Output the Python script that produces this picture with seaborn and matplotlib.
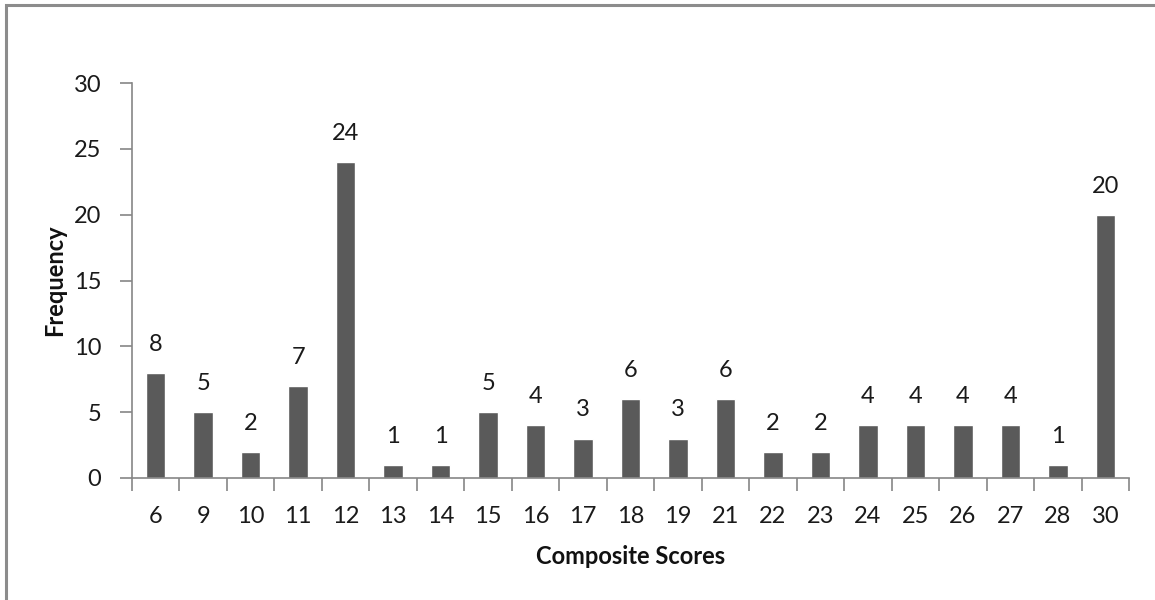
import matplotlib
matplotlib.use("Agg")
import matplotlib.pyplot as plt
from matplotlib.patches import Rectangle
import seaborn as sns
import pandas as pd

# Composite score values and how many respondents got each
scores = ["6", "9", "10", "11", "12", "13", "14", "15", "16", "17", "18",
          "19", "21", "22", "23", "24", "25", "26", "27", "28", "30"]
frequency = [8, 5, 2, 7, 24, 1, 1, 5, 4, 3, 6,
             3, 6, 2, 2, 4, 4, 4, 4, 1, 20]

df = pd.DataFrame({"score": scores, "freq": frequency})

sns.set_theme(style="white")
plt.rcParams["font.family"] = ["Lato", "DejaVu Sans"]

AXIS_GREY = "#868686"
BAR_GREY = "#5a5a5a"
FS = 17

fig = plt.figure(figsize=(11.55, 6.0), dpi=100)
ax = fig.add_axes([132 / 1155, 1 - 478 / 600, (1129 - 132) / 1155, (478 - 83) / 600])

sns.barplot(data=df, x="score", y="freq", order=scores, color=BAR_GREY,
            width=0.41, saturation=1, ax=ax)

# value labels above each bar
for i, v in enumerate(frequency):
    ax.annotate(str(v), (i, v), xytext=(0, 13), textcoords="offset points",
                ha="center", va="bottom", fontsize=FS, color="#1a1a1a")

ax.set_xlim(-0.5, len(scores) - 0.5)
ax.set_ylim(0, 30)
ax.set_yticks(range(0, 31, 5))

# category boundary tick marks on x, labels at centres
ax.set_xticks([i - 0.5 for i in range(len(scores) + 1)], minor=False)
ax.set_xticklabels([])
ax.set_xticks(range(len(scores)), minor=True)
ax.set_xticklabels(scores, minor=True)
ax.tick_params(axis="x", which="major", bottom=True, length=9, width=1.2,
               color=AXIS_GREY, direction="out")
ax.tick_params(axis="x", which="minor", bottom=True, length=0, pad=20,
               labelsize=FS, labelcolor="#1a1a1a")
ax.tick_params(axis="y", left=True, length=9, width=1.2, color=AXIS_GREY, direction="out",
               pad=13, labelsize=FS, labelcolor="#1a1a1a")

for side in ("top", "right"):
    ax.spines[side].set_visible(False)
for side in ("left", "bottom"):
    ax.spines[side].set_color(AXIS_GREY)
    ax.spines[side].set_linewidth(1.2)

ax.set_xlabel("Composite Scores", fontsize=FS, fontweight="bold", color="#111111")
ax.set_ylabel("Frequency", fontsize=FS, fontweight="bold", color="#111111")
ax.xaxis.set_label_coords(0.5, -(556 - 478) / 395)
ax.yaxis.set_label_coords(-(132 - 55) / 997, 0.5)
ax.xaxis.label.set_va("center")
ax.yaxis.label.set_va("center")

# outer frame of the chart area
fig.patches.append(Rectangle((5.5 / 1155, -0.05), 1.2, 1 - 4.5 / 600 + 0.05,
                             transform=fig.transFigure, fill=False,
                             edgecolor="#8c8c8c", linewidth=2.2))

fig.savefig("out.png", dpi=100, facecolor="white")
